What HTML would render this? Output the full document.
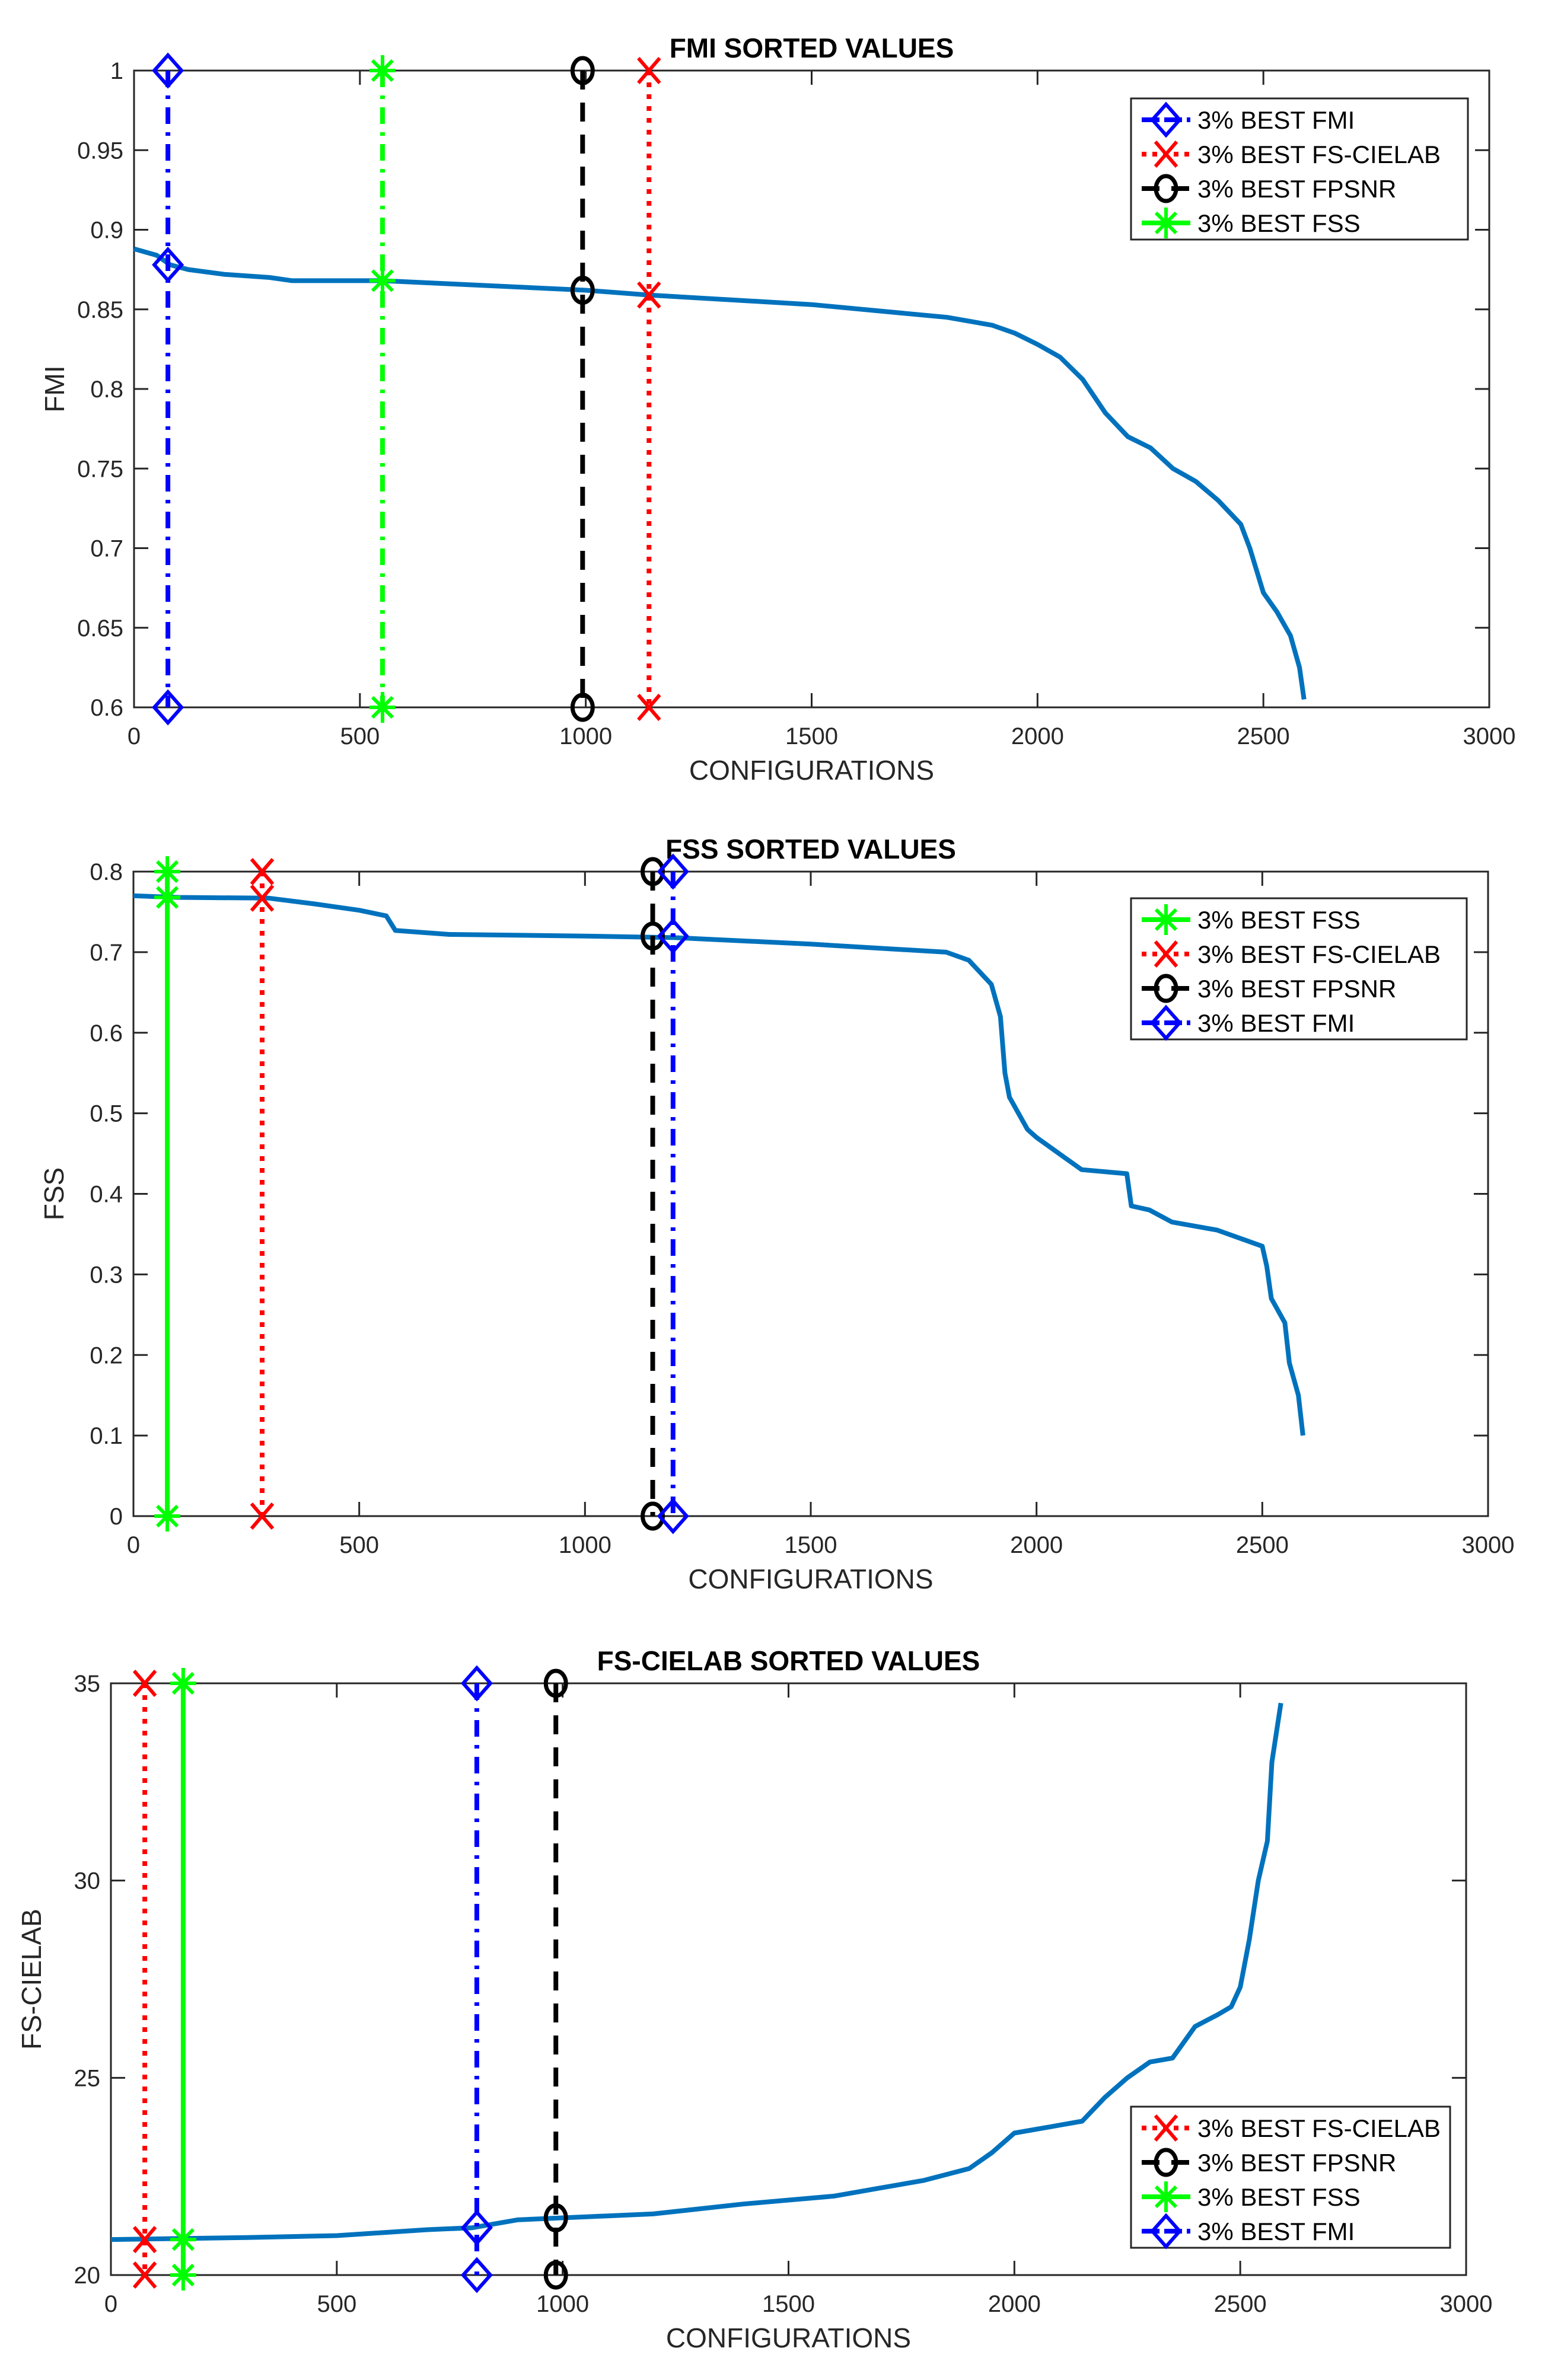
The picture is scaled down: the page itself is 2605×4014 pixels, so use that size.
<!DOCTYPE html>
<html><head><meta charset="utf-8">
<style>
html,body{margin:0;padding:0;background:#fff;}
svg{display:block;font-family:"Liberation Sans",Arial,sans-serif;}
</style></head>
<body>
<svg id="fig" width="2605" height="4014" viewBox="0 0 2605 4014" xmlns="http://www.w3.org/2000/svg">
<rect width="2605" height="4014" fill="#fff"/>
</svg>
<script>
// ---- data: plot 1 (FMI)
const fmiX = [0,50,80,120,200,300,350,550,700,1000,1140,1500,1800,1900,1950,2000,2050,2100,2150,2200,2250,2300,2350,2400,2450,2470,2500,2530,2560,2580,2590];
const fmiY = [0.888,0.884,0.878,0.875,0.872,0.870,0.868,0.868,0.866,0.862,0.859,0.853,0.845,0.840,0.835,0.828,0.820,0.806,0.785,0.770,0.763,0.750,0.742,0.730,0.715,0.700,0.672,0.660,0.645,0.625,0.605];
const fmiTicksY = [0.6,0.65,0.7,0.75,0.8,0.85,0.9,0.95,1];
const fmiTickLabelsY = ["0.6","0.65","0.7","0.75","0.8","0.85","0.9","0.95","1"];
const fmiMarkX = [75,550,993,1140];
const fmiMarkCurve = [0.878,0.868,0.862,0.859];
// ---- data: plot 2 (FSS)
const fssX = [0,100,300,400,500,560,580,700,1000,1200,1500,1800,1850,1900,1920,1930,1940,1980,2000,2050,2100,2200,2210,2250,2300,2400,2500,2510,2520,2550,2560,2580,2590];
const fssY = [0.77,0.768,0.767,0.76,0.752,0.745,0.727,0.722,0.72,0.718,0.71,0.70,0.69,0.66,0.62,0.55,0.52,0.48,0.47,0.45,0.43,0.425,0.385,0.38,0.365,0.355,0.335,0.31,0.27,0.24,0.19,0.15,0.10];
const fssTicksY = [0,0.1,0.2,0.3,0.4,0.5,0.6,0.7,0.8];
const fssTickLabelsY = ["0","0.1","0.2","0.3","0.4","0.5","0.6","0.7","0.8"];
const fssMarkX = [75,285,1150,1195];
const fssMarkCurve = [0.768,0.767,0.72,0.72];
// ---- data: plot 3 (FS-CIELAB)
const labX = [0,300,500,700,800,900,1000,1200,1400,1600,1700,1800,1900,1950,2000,2100,2150,2200,2250,2300,2350,2400,2450,2480,2500,2520,2540,2560,2570,2590];
const labY = [20.9,20.95,21.0,21.15,21.2,21.4,21.45,21.55,21.8,22.0,22.2,22.4,22.7,23.1,23.6,23.8,23.9,24.5,25.0,25.4,25.5,26.3,26.6,26.8,27.3,28.5,30.0,31.0,33.0,34.5];
const labTicksY = [20,25,30,35];
const labTickLabelsY = ["20","25","30","35"];
const labMarkX = [75,160,810,985];
const labMarkCurve = [20.9,20.9,21.2,21.45];
const xTicks = [0,500,1000,1500,2000,2500,3000];
const xTickLabels = ["0","500","1000","1500","2000","2500","3000"];

const NS = "http://www.w3.org/2000/svg";
const fig = document.getElementById('fig');
function mk(tag, attrs, parent){
  const e = document.createElementNS(NS, tag);
  for (const k in attrs) e.setAttribute(k, attrs[k]);
  (parent||fig).appendChild(e);
  return e;
}
const STY = {
  FMI:{color:'#0000ff', dash:'28 14 6 14', marker:'diamond', label:'3% BEST FMI'},
  FSC:{color:'#ff0000', dash:'8 12', marker:'x', label:'3% BEST FS-CIELAB'},
  FPS:{color:'#000000', dash:'32 22', marker:'circle', label:'3% BEST FPSNR'},
  FSS:{color:'#00ff00', dash:null, marker:'star', label:'3% BEST FSS'}
};
function marker(g, type, cx, cy, color){
  let e;
  if (type==='diamond'){
    e = mk('polygon',{points:`${cx},${cy-26} ${cx+23},${cy} ${cx},${cy+26} ${cx-23},${cy}`,fill:'none',stroke:color,'stroke-width':6},g);
  } else if (type==='circle'){
    e = mk('ellipse',{cx:cx,cy:cy,rx:17,ry:21,fill:'none',stroke:color,'stroke-width':7},g);
  } else if (type==='x'){
    e = mk('path',{d:`M${cx-18},${cy-21}L${cx+18},${cy+21}M${cx+18},${cy-21}L${cx-18},${cy+21}`,stroke:color,'stroke-width':6,fill:'none'},g);
  } else {
    e = mk('path',{d:`M${cx},${cy-26}V${cy+26}M${cx-22},${cy}H${cx+22}M${cx-17},${cy-17}L${cx+17},${cy+17}M${cx+17},${cy-17}L${cx-17},${cy+17}`,stroke:color,'stroke-width':6,fill:'none'},g);
  }
  
  
}

function plot(cfg){
  const {L,T,R,B,ymin,ymax,title,ylabel,xs,ys,yt,ytl,order,markX,markCurve,legend,name,fssDash} = cfg;
  const g = mk('g',{});
  
  
  const sx = v => L + (v/3000)*(R-L);
  const sy = v => B - (v-ymin)/(ymax-ymin)*(B-T);
  const box = mk('rect',{x:L,y:T,width:R-L,height:B-T,fill:'none',stroke:'#262626','stroke-width':3},g);
  
  
  xTicks.forEach((v,i)=>{
    const x = sx(v);
    mk('line',{x1:x,y1:B,x2:x,y2:B-24,stroke:'#262626','stroke-width':3},g);
    mk('line',{x1:x,y1:T,x2:x,y2:T+24,stroke:'#262626','stroke-width':3},g);
    const t = mk('text',{x:x,y:B+62,'font-size':40,'text-anchor':'middle',fill:'#262626'},g);
    t.textContent = xTickLabels[i];
    
    
  });
  yt.forEach((v,i)=>{
    const y = sy(v);
    mk('line',{x1:L,y1:y,x2:L+24,y2:y,stroke:'#262626','stroke-width':3},g);
    mk('line',{x1:R,y1:y,x2:R-24,y2:y,stroke:'#262626','stroke-width':3},g);
    const t = mk('text',{x:L-18,y:y+14,'font-size':40,'text-anchor':'end',fill:'#262626'},g);
    t.textContent = ytl[i];
    
    
  });
  const xl = mk('text',{x:(L+R)/2,y:B+122,'font-size':46,'text-anchor':'middle',fill:'#262626'},g);
  xl.textContent = 'CONFIGURATIONS';
  
  
  const yl = mk('text',{x:0,y:0,'font-size':46,'text-anchor':'middle',fill:'#262626',transform:`translate(${L-118},${(T+B)/2}) rotate(-90)`},g);
  yl.textContent = ylabel;
  
  
  const tt = mk('text',{x:(L+R)/2,y:T-22,'font-size':46,'font-weight':'bold','text-anchor':'middle',fill:'#000'},g);
  tt.textContent = title;
  
  
  const d = xs.map((v,i)=>(i?'L':'M')+sx(v).toFixed(1)+','+sy(ys[i]).toFixed(1)).join('');
  const c = mk('path',{d:d,fill:'none',stroke:'#0072bd','stroke-width':8,'stroke-linejoin':'round'},g);
  
  
  order.forEach((k,i)=>{
    const s = STY[k]; const x = sx(markX[i]);
    const vg = mk('g',{},g);
    
    
    const ln = mk('line',{x1:x,y1:sy(ymax),x2:x,y2:sy(ymin),stroke:s.color,'stroke-width':8},vg);
    const dash = (k==='FSS') ? fssDash : s.dash;
    if (dash) ln.setAttribute('stroke-dasharray', dash);
    [ymax, markCurve[i], ymin].forEach(v=>marker(vg, s.marker, x, sy(v), s.color));
  });
  const lg = mk('g',{},g);
  
  
  mk('rect',{x:legend.x,y:legend.y,width:legend.w,height:238,fill:'#fff',stroke:'#262626','stroke-width':3},lg);
  legend.order.forEach((k,i)=>{
    const s = STY[k]; const y = legend.y + 36 + i*58;
    const eg = mk('g',{},lg);
    
    
    const ln = mk('line',{x1:legend.x+18,y1:y,x2:legend.x+100,y2:y,stroke:s.color,'stroke-width':8},eg);
    if (s.dash) ln.setAttribute('stroke-dasharray', k==='FSC' ? '8 10' : (k==='FMI'?'30 8':'30 20'));
    marker(eg, s.marker, legend.x+59, y, s.color);
    const t = mk('text',{x:legend.x+112,y:y+15,'font-size':42,fill:'#000'},eg);
    t.textContent = s.label;
  });
}

plot({name:'fmi-chart',L:226,T:119,R:2511,B:1193,ymin:0.6,ymax:1,title:'FMI SORTED VALUES',ylabel:'FMI',
  xs:fmiX,ys:fmiY,yt:fmiTicksY,ytl:fmiTickLabelsY,order:['FMI','FSS','FPS','FSC'],markX:fmiMarkX,markCurve:fmiMarkCurve,fssDash:'28 14 6 14',
  legend:{x:1907,y:166,w:568,order:['FMI','FSC','FPS','FSS']}});
plot({name:'fss-chart',L:225,T:1470,R:2509,B:2557,ymin:0,ymax:0.8,title:'FSS SORTED VALUES',ylabel:'FSS',
  xs:fssX,ys:fssY,yt:fssTicksY,ytl:fssTickLabelsY,order:['FSS','FSC','FPS','FMI'],markX:fssMarkX,markCurve:fssMarkCurve,fssDash:null,
  legend:{x:1907,y:1515,w:566,order:['FSS','FSC','FPS','FMI']}});
plot({name:'fs-cielab-chart',L:187,T:2839,R:2472,B:3837,ymin:20,ymax:35,title:'FS-CIELAB SORTED VALUES',ylabel:'FS-CIELAB',
  xs:labX,ys:labY,yt:labTicksY,ytl:labTickLabelsY,order:['FSC','FSS','FMI','FPS'],markX:labMarkX,markCurve:labMarkCurve,fssDash:null,
  legend:{x:1907,y:3553,w:538,order:['FSC','FPS','FSS','FMI']}});
</script>
</body></html>
